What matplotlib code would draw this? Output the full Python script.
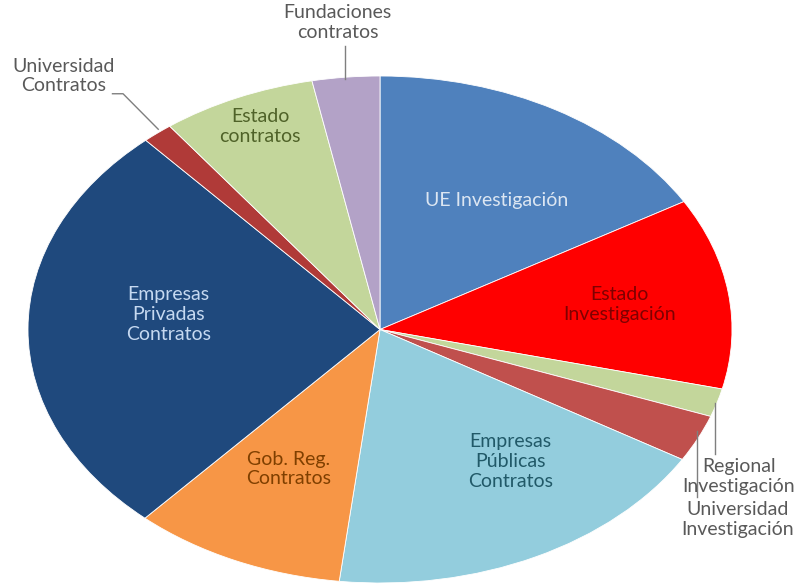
import numpy as np
import matplotlib
matplotlib.use('Agg')
import matplotlib.pyplot as plt


# ── Data ──────────────────────────────────────────────────────────────────────

labels = [
    "UE Investigación",
    "Estado\nInvestigación",
    "Regional\nInvestigación",
    "Universidad\nInvestigación",
    "Empresas\nPúblicas\nContratos",
    "Gob. Reg.\nContratos",
    "Empresas\nPrivadas\nContratos",
    "Universidad\nContratos",
    "Estado\ncontratos",
    "Fundaciones\ncontratos",
]
shares = [16.6, 12.2, 1.8, 3.0, 18.3, 9.8, 26.8, 1.4, 7.1, 3.1]

colors = ['#4F81BD', '#FF0000', '#C3D69B', '#C0504D', '#93CDDD',
          '#F79646', '#1F497D', '#B03A38', '#C3D69B', '#B3A2C7']
text_colors = ['#DCE6F2', '#7F0000', '#595959', '#595959', '#215968',
               '#7F3F00', '#C6D9F1', '#595959', '#4F6228', '#595959']

# label anchors in normalised pie coords (pie radius = 1)
label_pos = [(0.33, 0.51), (0.68, 0.10), (1.02, -0.58), (1.015, -0.75),
             (0.37, -0.52), (-0.26, -0.55), (-0.60, 0.06), (-0.90, 1.00),
             (-0.34, 0.80), (-0.12, 1.21)]

# leader lines for the labels placed outside
leaders = {
    2: [(0.952, -0.29), (0.952, -0.49)],
    3: [(0.90, -0.40), (0.90, -0.66)],
    7: [(-0.76, 0.93), (-0.73, 0.93), (-0.63, 0.79)],
    9: [(-0.10, 1.12), (-0.10, 0.99)],
}


# ── Figure ────────────────────────────────────────────────────────────────────

plt.rcParams['font.family'] = ['Lato', 'DejaVu Sans']

fig = plt.figure(figsize=(8.0, 5.85), dpi=100)
# pie is stretched into an ellipse: 704 px wide, 507 px tall
ax = fig.add_axes([28 / 800, 2 / 585, 704 / 800, 507 / 585])

ax.pie(shares, colors=colors, startangle=90, counterclock=False,
       wedgeprops=dict(edgecolor='white', linewidth=0.6))
ax.set_aspect('auto')
ax.set_xlim(-1, 1)
ax.set_ylim(-1, 1)
ax.axis('off')

for i, (lab, (x, y)) in enumerate(zip(labels, label_pos)):
    ax.text(x, y, lab, ha='center', va='center', fontsize=14,
            color=text_colors[i], linespacing=1.2, clip_on=False)

for pts in leaders.values():
    xs, ys = zip(*pts)
    ax.plot(xs, ys, color='#7F7F7F', linewidth=1.0, clip_on=False)

plt.savefig("out.png", dpi=100)
plt.close()
